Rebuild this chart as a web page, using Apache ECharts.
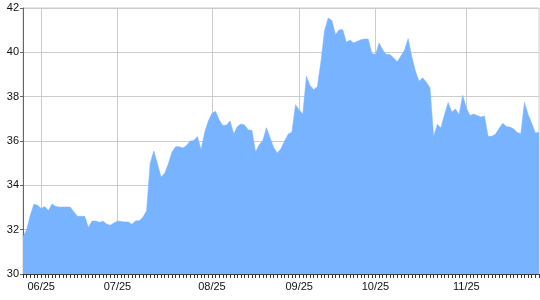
<!DOCTYPE html>
<html>
<head>
<meta charset="utf-8">
<script src="https://cdn.jsdelivr.net/npm/echarts@6/dist/echarts.min.js"></script>
<style>html,body{margin:0;padding:0;background:#fff}#c{width:540px;height:300px}</style>
</head>
<body>
<div id="c"></div>
<script>
const categories = [
  '06/18','06/19','06/20','06/23','06/24','06/25',
  '06/26','06/27','06/30','07/01','07/02','07/03','07/07','07/08','07/09','07/10',
  '07/11','07/14','07/15','07/16','07/17','07/18','07/21','07/22','07/23','07/24',
  '07/25',
  '07/26','07/28','07/29','07/30','07/31','08/01','08/02','08/04','08/05','08/06',
  '08/07','08/08','08/09','08/11','08/12','08/13','08/14','08/15','08/16','08/18',
  '08/19','08/20','08/21','08/22','08/23',
  '08/25',
  '08/26','08/27','08/28','08/29','09/01','09/02','09/03','09/04','09/05','09/08',
  '09/09','09/10','09/11','09/12','09/15','09/16','09/17','09/18','09/19','09/20',
  '09/22','09/23','09/24',
  '09/25',
  '09/26','09/29','09/30','10/01','10/02','10/03','10/06','10/07','10/08','10/09',
  '10/10','10/14','10/15','10/16','10/17','10/20','10/21','10/22','10/23','10/24',
  '10/25',
  '10/27','10/28','10/29','10/30','10/31','11/03','11/04','11/05','11/06','11/07',
  '11/08','11/10','11/11','11/12','11/13','11/14','11/15','11/17','11/18','11/19',
  '11/20','11/21','11/22','11/24',
  '11/25',
  '11/26','11/28','12/01','12/02','12/03','12/04','12/05','12/08','12/09','12/10',
  '12/11','12/12','12/15','12/16','12/17','12/18','12/19','12/22','12/23','12/24'
];
const values = [
  31.68, 32.0, 32.65, 33.15, 33.1, 32.96, 33.04, 32.86, 33.16, 33.05,
  33.02, 33.02, 33.02, 33.02, 32.8, 32.6, 32.6, 32.6, 32.1, 32.39,
  32.39, 32.33, 32.38, 32.26, 32.2, 32.3, 32.39, 32.37, 32.35, 32.35,
  32.24, 32.4, 32.4, 32.56, 32.85, 35.0, 35.55, 34.97, 34.38, 34.55,
  34.97, 35.5, 35.74, 35.74, 35.68, 35.8, 36.0, 36.02, 36.2, 35.6,
  36.4, 36.9, 37.25, 37.34, 36.95, 36.7, 36.72, 36.9, 36.32, 36.65,
  36.77, 36.72, 36.5, 36.48, 35.5, 35.83, 36.02, 36.6, 36.15, 35.7,
  35.46, 35.66, 36.0, 36.32, 36.4, 37.64, 37.4, 37.22, 38.92, 38.5,
  38.32, 38.45, 39.6, 41.0, 41.55, 41.44, 40.8, 41.02, 41.02, 40.45,
  40.56, 40.42, 40.5, 40.57, 40.6, 40.6, 39.95, 39.9, 40.42, 40.1,
  39.9, 39.9, 39.75, 39.58, 39.83, 40.1, 40.62, 39.8, 39.15, 38.7,
  38.85, 38.65, 38.4, 36.2, 36.75, 36.6, 37.2, 37.74, 37.31, 37.44,
  37.19, 38.06, 37.5, 37.15, 37.22, 37.15, 37.08, 37.13, 36.21, 36.21,
  36.3, 36.56, 36.8, 36.65, 36.63, 36.55, 36.38, 36.33, 37.74, 37.2,
  36.8, 36.36, 36.4
];
const tickLabels = ['06/25','07/25','08/25','09/25','10/25','11/25'];
const yMin = 30, yMax = 42, yStep = 2;

const showLabel = (i, v) => tickLabels.indexOf(categories[i]) >= 0;
const chart = echarts.init(document.getElementById('c'));
chart.setOption({
  animation: false,
  grid: { left: 23, right: 1, top: 8, bottom: 26, show: true, borderColor: '#cccccc', borderWidth: 1 },
  xAxis: {
    type: 'category',
    data: categories,
    boundaryGap: false,
    axisLine: { lineStyle: { color: '#444', width: 1 } },
    axisTick: { show: true, interval: 0, length: 4, lineStyle: { color: '#333' } },
    axisLabel: { interval: showLabel, margin: 7, color: '#111', fontSize: 11, fontFamily: 'Liberation Sans, Arial, sans-serif' },
    splitLine: { show: true, interval: showLabel, lineStyle: { color: '#cccccc', width: 1 } }
  },
  yAxis: {
    type: 'value',
    min: yMin, max: yMax, interval: yStep,
    axisLine: { show: true, lineStyle: { color: '#666', width: 1 } },
    axisTick: { show: true, length: 3, lineStyle: { color: '#666' } },
    axisLabel: { margin: 4, color: '#111', fontSize: 11, fontFamily: 'Liberation Sans, Arial, sans-serif' },
    splitLine: { show: true, lineStyle: { color: '#cccccc', width: 1 } }
  },
  series: [{
    type: 'line',
    data: values,
    showSymbol: false,
    symbol: 'none',
    lineStyle: { width: 0.5, color: '#78b3ff' },
    areaStyle: { color: '#78b3ff', opacity: 1 }
  }]
});
</script>
</body>
</html>
